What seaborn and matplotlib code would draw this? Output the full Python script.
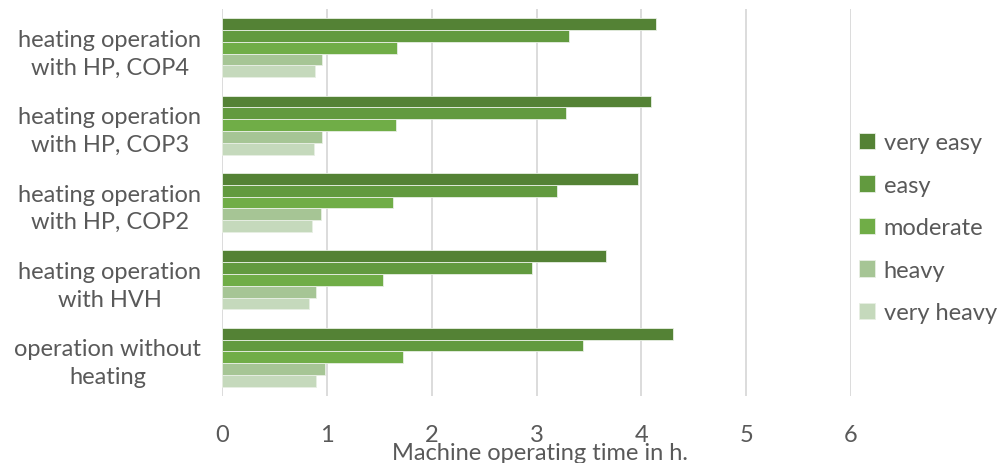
import matplotlib
matplotlib.use("Agg")
import matplotlib.pyplot as plt
import seaborn as sns
import pandas as pd

categories = ["heating operation\nwith HP, COP4", "heating operation\nwith HP, COP3",
              "heating operation\nwith HP, COP2", "heating operation\nwith HVH",
              "operation without\nheating"]
levels = ["very easy", "easy", "moderate", "heavy", "very heavy"]
very_easy = [4.14, 4.09, 3.97, 3.66, 4.30]
easy = [3.31, 3.28, 3.20, 2.96, 3.44]
moderate = [1.67, 1.66, 1.63, 1.54, 1.73]
heavy = [0.95, 0.95, 0.94, 0.90, 0.98]
very_heavy = [0.89, 0.88, 0.86, 0.83, 0.90]
colors = ["#548235", "#629a3f", "#70ad47", "#a6c595", "#c5d9bc"]

series = [very_easy, easy, moderate, heavy, very_heavy]
rows = []
for lev, vals in zip(levels, series):
    for c, v in zip(categories, vals):
        rows.append({"category": c, "level": lev, "value": v})
df = pd.DataFrame(rows)

sns.set_style("white")
plt.rcParams['font.family'] = ['Lato', 'DejaVu Sans']
txt = "#595959"
fs = 17

fig = plt.figure(figsize=(9.97, 4.64), dpi=100)
ax = fig.add_axes([222 / 997, 1 - 397 / 464, (851 - 222) / 997, 387 / 464])
sns.barplot(data=df, y="category", x="value", hue="level", order=categories,
            hue_order=levels, palette=colors, orient="h", width=0.76, saturation=1,
            edgecolor="#e8efe4", linewidth=0.6, ax=ax, legend=True)
ax.set_xlim(0, 6)
ax.set_xticks(range(0, 7))
ax.grid(axis="x", color="#d9d9d9", linewidth=1.3)
ax.set_axisbelow(True)
for s in ax.spines.values():
    s.set_visible(False)
ax.tick_params(axis="x", length=0, pad=20, labelsize=fs, labelcolor=txt)
ax.tick_params(axis="y", length=0, pad=15, labelsize=fs, labelcolor=txt)
for lab in ax.get_yticklabels():
    lab.set_multialignment("center")
    lab.set_linespacing(1.4)
ax.set_ylabel("")
ax.set_xlabel("Machine operating time in h.", fontsize=fs, color=txt)
ax.xaxis.set_label_coords(318 / 629, -0.12)

handles, labels = ax.get_legend_handles_labels()
ax.legend(handles, labels, loc="center left", bbox_to_anchor=(0.99, 0.435), frameon=False,
          fontsize=fs, labelcolor=txt, handlelength=0.7, handleheight=0.7,
          handletextpad=0.35, labelspacing=0.91, borderaxespad=0.2)

fig.savefig("out.png", dpi=100)
